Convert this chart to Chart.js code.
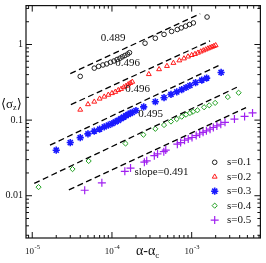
<!DOCTYPE html>
<html>
<head>
<meta charset="utf-8">
<script src="https://cdn.jsdelivr.net/npm/chart.js@4.4.1/dist/chart.umd.min.js"></script>
<style>
  html, body { margin: 0; padding: 0; background: #fff; }
  canvas { display: block; }
</style>
</head>
<body>
<canvas id="chart" width="266" height="263"></canvas>
<script>
// values (x = alpha - alpha_c, y = <sigma_z>)
const seriesNames = ['s=0.1', 's=0.2', 's=0.3', 's=0.4', 's=0.5'];

const x01 = [4.0e-5, 6.0e-5, 6.8e-5, 7.7e-5, 8.6e-5, 9.6e-5, 1.06e-4, 1.16e-4, 1.26e-4, 1.35e-4, 1.45e-4, 1.57e-4, 1.66e-4,
  2.6e-4, 3.5e-4, 4.5e-4, 5.6e-4, 6.6e-4, 7.4e-4, 8.4e-4, 9.4e-4, 1.05e-3, 1.56e-3];
const y01 = [0.379, 0.487, 0.514, 0.536, 0.554, 0.582, 0.605, 0.634, 0.659, 0.687, 0.714, 0.746, 0.780,
  1.04, 1.21, 1.36, 1.49, 1.58, 1.66, 1.75, 1.84, 1.93, 2.31];

const x02 = [4e-5, 5e-5, 6e-5, 7e-5, 8e-5, 9e-5, 1e-4, 1.1e-4, 1.2e-4, 1.3e-4, 1.4e-4, 1.5e-4, 1.6e-4, 1.7e-4, 1.8e-4,
  2.9e-4, 3.9e-4, 4.9e-4, 5.9e-4, 7e-4, 8e-4, 9e-4, 1e-3, 1.1e-3, 1.2e-3, 1.3e-3, 1.4e-3, 1.5e-3, 1.6e-3, 1.7e-3, 1.8e-3, 1.9e-3, 2e-3];
const y02 = [0.137, 0.162, 0.175, 0.192, 0.204, 0.216, 0.227, 0.236, 0.249, 0.258, 0.272, 0.283, 0.297, 0.309, 0.321,
  0.405, 0.470, 0.519, 0.570, 0.615, 0.653, 0.692, 0.724, 0.748, 0.778, 0.807, 0.834, 0.859, 0.885, 0.909, 0.931, 0.953, 0.976];

const x03 = [2e-5, 3e-5, 4e-5, 5e-5, 6e-5, 7e-5, 8e-5, 9e-5, 1e-4, 1.1e-4, 1.2e-4, 1.3e-4, 1.4e-4, 1.5e-4, 1.6e-4, 1.7e-4, 1.8e-4, 2e-4,
  2.5e-4, 3.5e-4, 4.5e-4, 5.5e-4, 6.5e-4, 7.5e-4, 8.5e-4, 9.5e-4, 1.12e-3, 1.34e-3, 1.54e-3, 2.34e-3];
const y03 = [0.0400, 0.0505, 0.0586, 0.0658, 0.0716, 0.0760, 0.0814, 0.0856, 0.0901, 0.0945, 0.0994, 0.1046, 0.1097, 0.1144, 0.119, 0.1229, 0.127, 0.134,
  0.1496, 0.175, 0.198, 0.219, 0.236, 0.253, 0.270, 0.287, 0.314, 0.338, 0.359, 0.427];

const x04 = [1.2e-5, 3.2e-5, 5.1e-5, 1.48e-4, 2.48e-4, 3.5e-4, 4.5e-4, 5.5e-4, 6.5e-4, 7.5e-4, 8.5e-4, 9.5e-4,
  1.04e-3, 1.18e-3, 1.43e-3, 1.66e-3, 1.97e-3, 2.84e-3, 3.88e-3];
const y04 = [0.0130, 0.0225, 0.0288, 0.0490, 0.0641, 0.0767, 0.0861, 0.0957, 0.1033, 0.111, 0.118, 0.124,
  0.129, 0.135, 0.148, 0.157, 0.169, 0.202, 0.230];

const x05 = [4.55e-5, 7.47e-5, 1.45e-4, 1.71e-4, 2.55e-4, 2.73e-4, 3.40e-4, 3.73e-4, 4.47e-4, 4.73e-4, 6.61e-4, 7.26e-4, 8.14e-4,
  9.05e-4, 1.01e-3, 1.14e-3, 1.26e-3, 1.39e-3, 1.53e-3, 1.70e-3, 1.87e-3, 2.07e-3, 2.32e-3, 2.62e-3, 3.44e-3, 4.61e-3, 5.80e-3];
const y05 = [0.01182, 0.01483, 0.02104, 0.02322, 0.02777, 0.02897, 0.03391, 0.0357, 0.0382, 0.0402, 0.0481, 0.0505, 0.0542,
  0.0564, 0.0589, 0.0625, 0.0655, 0.0689, 0.0722, 0.0760, 0.0799, 0.0838, 0.0882, 0.0936, 0.1033, 0.112, 0.1244];

// dashed fit lines, end points
const fitX = [[3.0e-5, 1.28e-3], [3.05e-5, 1.70e-3], [1.67e-5, 2.17e-3], [1.06e-5, 3.69e-3], [2.88e-5, 4.81e-3]];
const fitY = [[0.413, 2.55], [0.160, 1.117], [0.0467, 0.526], [0.01457, 0.272], [0.01193, 0.1466]];
const fitLabels = ['0.489', '0.496', '0.496', '0.495', 'slope=0.491'];

const xMin = 8.35e-6, xMax = 7.28e-3;
const yMin = 0.00276, yMax = 3.27;

const pts = (xs, ys) => xs.map((x, i) => ({ x, y: ys[i] }));

const styles = [
  { color: '#222222', pointStyle: 'circle', radius: 2.3, width: 1 },
  { color: '#ff1a1a', pointStyle: 'triangle', radius: 2.8, width: 1 },
  { color: '#1a1aff', pointStyle: 'star', radius: 3.6, width: 1.6 },
  { color: '#22a022', pointStyle: 'rectRot', radius: 2.6, width: 1 },
  { color: '#a020f0', pointStyle: 'cross', radius: 4, width: 1.2 }
];

const serif = '"Liberation Serif", "DejaVu Serif", serif';
const markerData = [pts(x01, y01), pts(x02, y02), pts(x03, y03), pts(x04, y04), pts(x05, y05)];

const datasets = [];
fitX.forEach((fx, i) => {
  datasets.push({
    label: 'fit ' + fitLabels[i],
    data: pts(fx, fitY[i]),
    showLine: true,
    pointRadius: 0,
    borderColor: '#000',
    borderWidth: 1.3,
    borderDash: [6, 3.5]
  });
});
markerData.forEach((d, i) => {
  const st = styles[i];
  datasets.push({
    label: seriesNames[i],
    data: d,
    showLine: false,
    pointStyle: st.pointStyle,
    pointRadius: st.radius,
    pointBorderWidth: st.width,
    pointBorderColor: st.color,
    pointBackgroundColor: 'rgba(0,0,0,0)',
    borderColor: st.color,
    backgroundColor: 'rgba(0,0,0,0)'
  });
});

const line = (ctx, x1, y1, x2, y2) => {
  ctx.beginPath();
  ctx.moveTo(x1, y1);
  ctx.lineTo(x2, y2);
  ctx.stroke();
};

const decorations = {
  id: 'decorations',
  afterDraw(chart) {
    const ctx = chart.ctx;
    const a = chart.chartArea;
    const xs = chart.scales.x, ys = chart.scales.y;
    ctx.save();
    ctx.strokeStyle = '#111';
    ctx.lineWidth = 1.2;
    ctx.strokeRect(a.left, a.top, a.right - a.left, a.bottom - a.top);

    // inward ticks on all four sides
    ctx.lineWidth = 1;
    const logTicks = (scale, cb) => {
      const lo = Math.floor(Math.log10(scale.min)), hi = Math.ceil(Math.log10(scale.max));
      for (let d = lo; d <= hi; d++) {
        for (let m = 1; m < 10; m++) {
          const v = m * Math.pow(10, d);
          if (v < scale.min || v > scale.max) continue;
          cb(scale.getPixelForValue(v), m === 1, d);
        }
      }
    };
    logTicks(xs, (p, major) => {
      const len = major ? 6 : 3;
      line(ctx, p, a.top, p, a.top + len);
      line(ctx, p, a.bottom, p, a.bottom - len);
    });
    logTicks(ys, (p, major) => {
      const len = major ? 6 : 3;
      line(ctx, a.left, p, a.left + len, p);
      line(ctx, a.right, p, a.right - len, p);
    });

    // tick labels
    ctx.fillStyle = '#111';
    ctx.textBaseline = 'middle';
    ctx.textAlign = 'right';
    ctx.font = '10px ' + serif;
    logTicks(ys, (p, major, d) => {
      if (!major) return;
      const txt = d >= 0 ? String(Math.pow(10, d)) : Math.pow(10, d).toFixed(-d);
      ctx.fillText(txt, a.left - 3, p);
    });
    ctx.textAlign = 'left';
    ctx.textBaseline = 'alphabetic';
    logTicks(xs, (p, major, d) => {
      if (!major) return;
      ctx.font = '9px ' + serif;
      const wb = ctx.measureText('10').width;
      ctx.font = '6.5px ' + serif;
      const we = ctx.measureText(String(d)).width;
      const x0 = p - (wb + we) / 2;
      ctx.font = '9px ' + serif;
      ctx.fillText('10', x0, a.bottom + 15.5);
      ctx.font = '6.5px ' + serif;
      ctx.fillText(String(d), x0 + wb + 0.5, a.bottom + 10.5);
    });

    // axis titles
    ctx.font = '14px ' + serif;
    ctx.fillText('α-α', 136, a.bottom + 17);
    const wa = ctx.measureText('α-α').width;
    ctx.font = '9px ' + serif;
    ctx.fillText('c', 136 + wa, a.bottom + 20);

    ctx.font = '13px ' + serif;
    ctx.fillText('⟨σ', 1, 107.5);
    const ws = ctx.measureText('⟨σ').width;
    ctx.font = '8px ' + serif;
    ctx.fillText('z', 1 + ws, 110);
    const wz = ctx.measureText('z').width;
    ctx.font = '13px ' + serif;
    ctx.fillText('⟩', 1 + ws + wz, 107.5);

    // slope labels
    const labelPos = [[113, 38.5], [127.5, 63.5], [137.5, 89], [150.5, 114], [161.5, 172.5]];
    ctx.font = '11px ' + serif;
    ctx.textAlign = 'center';
    ctx.textBaseline = 'middle';
    fitLabels.forEach((t, i) => ctx.fillText(t, labelPos[i][0], labelPos[i][1]));

    // legend
    const lx = 214.7, ly = 162.3, step = 14.45;
    seriesNames.forEach((name, i) => {
      const st = styles[i];
      const yy = ly + i * step;
      ctx.strokeStyle = st.color;
      ctx.fillStyle = 'rgba(0,0,0,0)';
      ctx.lineWidth = st.width;
      Chart.helpers.drawPoint(ctx, { pointStyle: st.pointStyle, radius: st.radius, rotation: 0, borderWidth: st.width }, lx, yy);
      ctx.fillStyle = '#111';
      ctx.font = '11px ' + serif;
      ctx.textAlign = 'left';
      ctx.fillText(name, 227, yy);
    });
    ctx.restore();
  }
};

new Chart(document.getElementById('chart'), {
  type: 'scatter',
  data: { datasets },
  options: {
    responsive: false,
    animation: false,
    devicePixelRatio: 1,
    layout: { padding: { top: 1, right: 3, left: 0, bottom: 0 } },
    plugins: { legend: { display: false }, tooltip: { enabled: false } },
    scales: {
      x: {
        type: 'logarithmic', min: xMin, max: xMax, position: 'bottom',
        grid: { display: false }, border: { display: false },
        ticks: { display: false },
        afterFit: (s) => { s.height = 25; }
      },
      y: {
        type: 'logarithmic', min: yMin, max: yMax, position: 'left',
        grid: { display: false }, border: { display: false },
        ticks: { display: false },
        afterFit: (s) => { s.width = 26; }
      }
    }
  },
  plugins: [decorations]
});
</script>
</body>
</html>
